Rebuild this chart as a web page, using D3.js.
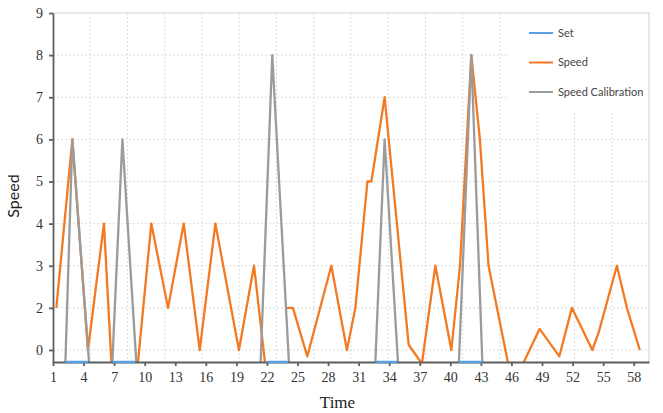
<!DOCTYPE html>
<html>
<head>
<meta charset="utf-8">
<script src="https://cdn.jsdelivr.net/npm/d3@7"></script>
<style>
  body { margin: 0; background: #fff; }
  .tick text { font-family: "Liberation Serif", serif; font-size: 14px; fill: #333; }
  .axis path, .axis line { stroke: #5e5e5e; stroke-width: 1.8; }
  .grid line { stroke: #dcdcdc; stroke-width: 1; stroke-dasharray: 2,2; }
  .title { font-family: "Liberation Serif", serif; font-size: 17px; fill: #222; }
  .title.y { font-family: Lato, sans-serif; font-size: 16px; }
  .legend text { font-family: Lato, sans-serif; font-size: 11px; fill: #444; }
</style>
</head>
<body>
<div id="chart"></div>
<script>

// tick labels of both axes
var timeTicks = [1, 4, 7, 10, 13, 16, 19, 22, 25, 28, 31, 34, 37, 40, 43, 46, 49, 52, 55, 58];
var speedTicks = [0, 2, 3, 4, 5, 6, 7, 8, 9];

// series "Speed" (null = break in the line)
var speedTime = [1.33, 2.90, 4.43, 6.00, 7.00, 8.86, 10.65, 12.29, 13.83, 15.40, 16.94, 19.25, 20.73, 22.37, 23.10,
                 23.80, 24.55, 25.96, 28.32, 29.85, 30.68, 31.86, 32.25, 33.55, 35.91, 37.21, 38.53, 40.10, 40.95,
                 42.06, 42.90, 43.75, 46.11, 48.76, 50.70, 51.93, 53.94, 54.60, 56.35, 57.33, 58.60];
var speedValue = [2, 6, 0, 4, -3, -3, 4, 2, 4, 0, 4, 0, 3, -3, null,
                  2, 2, -0.3, 3, 0, 2, 5, 5, 7, 0.25, -0.65, 3, 0, 3,
                  8, 6, 3, -1.7, 1, -0.3, 2, 0, 0.9, 3, 2, 0];

// series "Speed Calibration"
var calTime = [1.33, 2.06, 2.90, 4.91, 6.60, 7.81, 9.49, 21.19, 22.52, 24.43, 32.43, 33.55, 35.16, 40.64, 42.06, 43.32, 58.60];
var calValue = [-3, -3, 6, -3, -3, 6, -3, -3, 8, -3, -3, 6, -3, -3, 8, -3, -3];

// series "Set"
var setTime = [2.22, 4.43, 4.50, 6.89, 9.09, 9.20, 22.04, 24.06, 24.10, 32.64, 34.80, 34.90, 40.84, 43.14];
var setValue = [-0.57, -0.57, null, -0.57, -0.57, null, -0.57, -0.57, null, -0.57, -0.57, null, -0.57, -0.57];

var seriesNames = ["Set", "Speed", "Speed Calibration"];
var seriesColors = ["#589fe4", "#f37a22", "#9b9b9b"];

// afmetingen
var totalWidth = 663, totalHeight = 413;
var margin = {top: 13, right: 14, bottom: 51, left: 53};
var width = totalWidth - margin.left - margin.right;
var height = totalHeight - margin.top - margin.bottom;

function zip(xs, ys) {
  return xs.map(function(x, i) { return {x: x, y: ys[i]}; });
}

var svg = d3.select("#chart")
    .append("svg")
    .attr("width", totalWidth)
    .attr("height", totalHeight)
  .append("g")
    .attr("transform", "translate(" + margin.left + "," + margin.top + ")");

// x scale
var xScale = d3.scaleLinear()
    .domain([1, 59.5])
    .range([0, width]);

// the y axis has equal steps from 0 to 2 and from 2 to 3, so a piecewise scale
var lin = d3.scaleLinear().domain([0.715, 9]).range([height, 0]);
var yScale = d3.scaleLinear()
    .domain([-0.57, 0, 2, 9])
    .range([height, lin(1), lin(2), 0]);

// horizontal grid lines
svg.append("g")
    .attr("class", "grid")
  .selectAll("line")
    .data(speedTicks.filter(function(d) { return d < 9; }))
    .enter()
    .append("line")
    .attr("x1", 0)
    .attr("x2", width)
    .attr("y1", function(d) { return yScale(d); })
    .attr("y2", function(d) { return yScale(d); });

// vertical grid lines split the plot in 16 parts
var xDom = xScale.domain();
svg.append("g")
    .attr("class", "grid")
  .selectAll("line")
    .data(d3.range(1, 16).map(function(k) { return xDom[0] + k * (xDom[1] - xDom[0]) / 16; }))
    .enter()
    .append("line")
    .attr("x1", function(d) { return xScale(d); })
    .attr("x2", function(d) { return xScale(d); })
    .attr("y1", 0)
    .attr("y2", height);

// top and right border
svg.append("path")
    .attr("d", "M0,0H" + width + "V" + height)
    .attr("fill", "none")
    .attr("stroke", "#d6d6d6")
    .attr("stroke-width", 1.2);

// clip
svg.append("clipPath")
    .attr("id", "plotclip")
  .append("rect")
    .attr("width", width)
    .attr("height", height);

var line = d3.line()
    .defined(function(d) { return d.y !== null; })
    .x(function(d) { return xScale(d.x); })
    .y(function(d) { return yScale(d.y); });

var plot = svg.append("g").attr("clip-path", "url(#plotclip)");

plot.append("path")
    .datum(zip(speedTime, speedValue))
    .attr("fill", "none")
    .attr("stroke", seriesColors[1])
    .attr("stroke-width", 2.3)
    .attr("stroke-linejoin", "round")
    .attr("d", line);

plot.append("path")
    .datum(zip(calTime, calValue))
    .attr("fill", "none")
    .attr("stroke", seriesColors[2])
    .attr("stroke-width", 2.3)
    .attr("stroke-linejoin", "round")
    .attr("d", line);

// x axis
svg.append("g")
    .attr("class", "axis")
    .attr("transform", "translate(0," + height + ")")
    .call(d3.axisBottom(xScale)
      .tickValues(timeTicks)
      .tickSizeInner(4)
      .tickSizeOuter(0)
      .tickPadding(6)
      .tickFormat(d3.format("d")));

// y axis
svg.append("g")
    .attr("class", "axis")
    .call(d3.axisLeft(yScale)
      .tickValues(speedTicks)
      .tickSizeInner(4)
      .tickSizeOuter(0)
      .tickPadding(6)
      .tickFormat(d3.format("d")));

// set line on the bottom axis
svg.append("path")
    .datum(zip(setTime, setValue))
    .attr("fill", "none")
    .attr("stroke", seriesColors[0])
    .attr("stroke-width", 2.4)
    .attr("d", line);

// axis titles
svg.append("text")
    .attr("class", "title")
    .attr("x", 284.5)
    .attr("y", height + 46)
    .attr("text-anchor", "middle")
    .text("Time");

svg.append("text")
    .attr("class", "title y")
    .attr("transform", "translate(" + (-34) + "," + 183 + ") rotate(-90)")
    .attr("text-anchor", "middle")
    .text("Speed");

// legend
var legend = svg.append("g")
    .attr("class", "legend")
    .attr("transform", "translate(" + (width - 142) + ",1)");

legend.append("rect")
    .attr("width", 141)
    .attr("height", 97)
    .attr("fill", "#fff");

var entry = legend.selectAll("g.entry")
    .data(seriesNames)
    .enter()
    .append("g")
    .attr("class", "entry")
    .attr("transform", function(d, i) { return "translate(22," + (19 + i * 29.5) + ")"; });

entry.append("line")
    .attr("x1", 0)
    .attr("x2", 24)
    .attr("stroke", function(d, i) { return seriesColors[i]; })
    .attr("stroke-width", 2);

entry.append("text")
    .attr("x", 29)
    .attr("dy", "0.35em")
    .text(function(d) { return d; });

</script>
</body>
</html>
